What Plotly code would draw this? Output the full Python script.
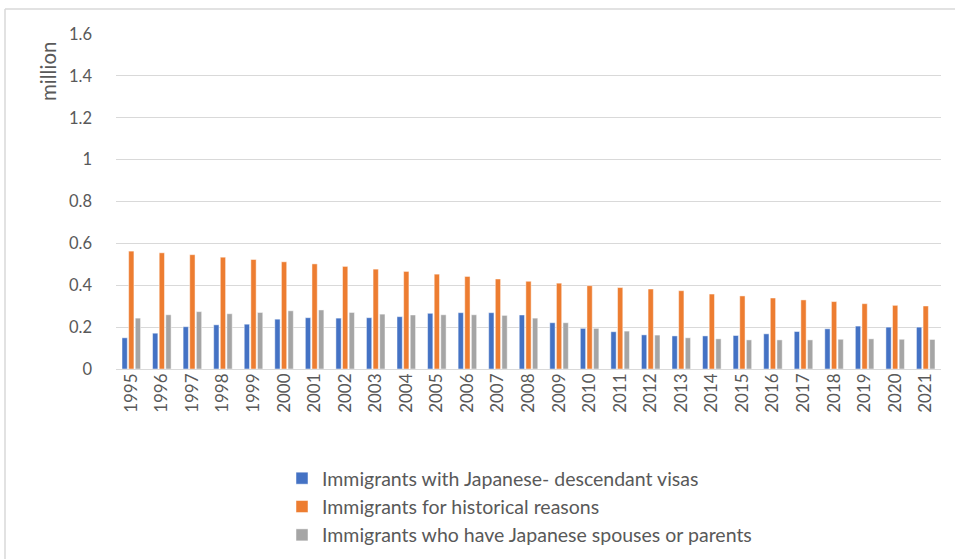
import plotly.graph_objects as go

years = [str(y) for y in range(1995, 2022)]
descendant_visas = [0.149, 0.171, 0.202, 0.211, 0.214, 0.238, 0.245, 0.243, 0.245, 0.250,
                    0.266, 0.269, 0.269, 0.258, 0.221, 0.194, 0.178, 0.163, 0.158, 0.158,
                    0.160, 0.168, 0.179, 0.192, 0.205, 0.200, 0.200]
historical = [0.563, 0.555, 0.546, 0.534, 0.523, 0.512, 0.502, 0.490, 0.477, 0.466,
              0.453, 0.442, 0.430, 0.419, 0.410, 0.398, 0.389, 0.382, 0.374, 0.358,
              0.349, 0.339, 0.330, 0.322, 0.312, 0.304, 0.301]
spouses_parents = [0.243, 0.259, 0.274, 0.264, 0.270, 0.278, 0.282, 0.270, 0.262, 0.258,
                   0.259, 0.259, 0.256, 0.243, 0.221, 0.194, 0.181, 0.162, 0.149, 0.144,
                   0.139, 0.139, 0.139, 0.142, 0.144, 0.142, 0.141]
series_names = ["Immigrants with Japanese- descendant visas",
                "Immigrants for historical reasons",
                "Immigrants who have Japanese spouses or parents"]
colors = ["#4472C4", "#ED7D31", "#A5A5A5"]

W, H = 955, 559
L, R, T, B = 116, 941, 34, 369

fig = go.Figure()
for name, vals, c in zip(series_names, [descendant_visas, historical, spouses_parents], colors):
    fig.add_trace(go.Bar(x=years, y=vals, name=name,
                         marker=dict(color=c, line=dict(color="rgba(255,255,255,0.6)", width=0.8))))

font = "Lato, 'Open Sans', sans-serif"
fig.update_layout(
    width=W, height=H,
    margin=dict(l=L, r=W - R, t=T, b=H - B, autoexpand=False),
    paper_bgcolor="white", plot_bgcolor="white",
    barmode="group", bargap=0.35, bargroupgap=0.2,
    font=dict(family=font, color="#595959", size=17),
    xaxis=dict(type="category", tickangle=-90, showgrid=False, zeroline=False,
               showline=False, ticks="", automargin=False,
               tickfont=dict(size=17, color="#595959")),
    yaxis=dict(range=[0, 1.6], dtick=0.2, showgrid=True, gridcolor="#D9D9D9", gridwidth=1,
               zeroline=True, zerolinecolor="#D9D9D9", zerolinewidth=1, showline=False,
               ticks="", ticklabelstandoff=23, automargin=False,
               tickfont=dict(size=16.5, color="#595959"), tickformat="~g"),
    legend=dict(orientation="v", xref="container", yref="container",
                x=282 / W, xanchor="left",
                y=1 - 459 / H, yanchor="top",
                font=dict(size=19.5, color="#595959"), tracegroupgap=0,
                itemwidth=30, bgcolor="rgba(0,0,0,0)"),
    showlegend=True,
)
fig.add_annotation(text="million", textangle=-90, xref="paper", yref="paper",
                   x=(48 - L) / (R - L), y=1 + (T - 72) / (B - T),
                   xanchor="center", yanchor="middle",
                   showarrow=False, font=dict(size=20.5, color="#595959"))
# outer chart border
fig.add_shape(type="line", xref="paper", yref="paper",
              x0=(5 - L) / (R - L), x1=(955 - L) / (R - L),
              y0=1 + (T - 9) / (B - T), y1=1 + (T - 9) / (B - T),
              line=dict(color="#D9D9D9", width=1.5))
fig.add_shape(type="line", xref="paper", yref="paper",
              x0=(5 - L) / (R - L), x1=(5 - L) / (R - L),
              y0=1 + (T - 9) / (B - T), y1=1 + (T - 560) / (B - T),
              line=dict(color="#D9D9D9", width=1.5))

fig.write_html("out.html")
